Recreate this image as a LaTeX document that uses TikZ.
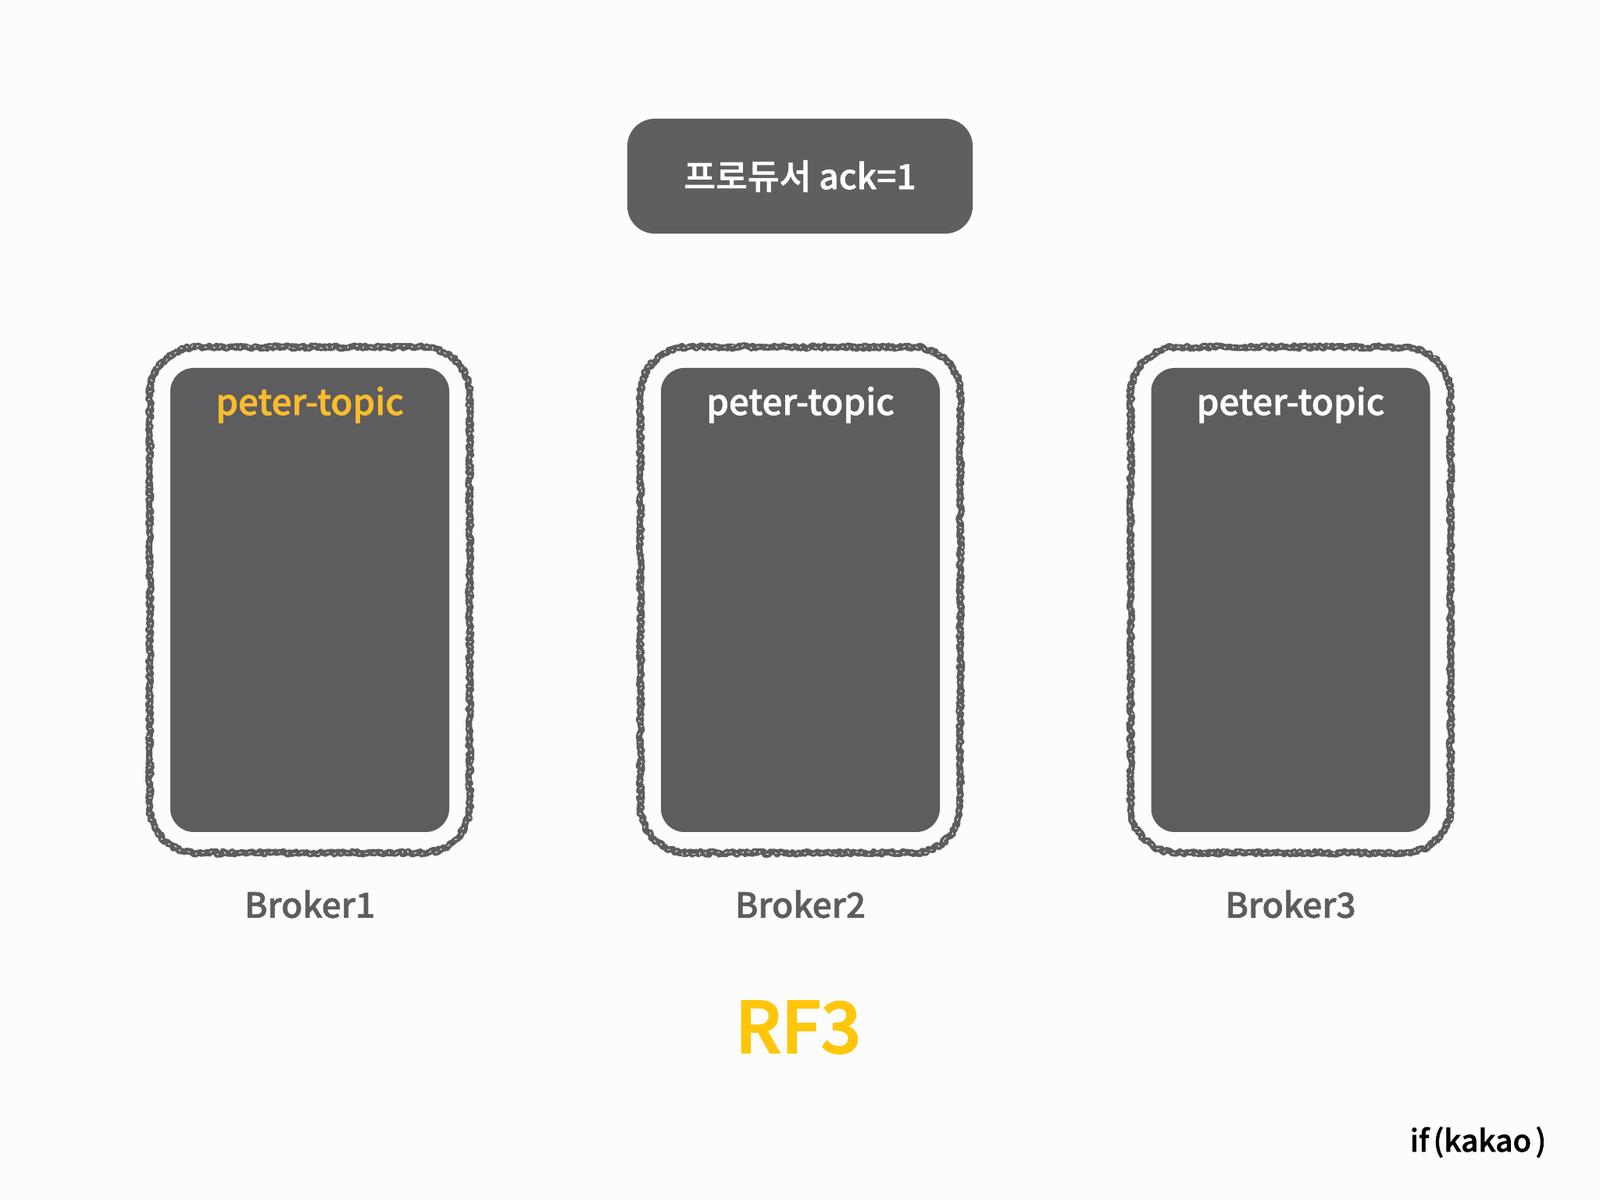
\documentclass[tikz,border=0pt]{standalone}
\usepackage{fontspec}
\setmainfont{Noto Sans CJK KR Medium}[FakeBold=1.4]
\newfontfamily\rffont{Noto Sans CJK KR Medium}[FakeBold=2.4]
\usetikzlibrary{positioning,decorations.pathmorphing}
\definecolor{boxgray}{HTML}{5D5C5E}
\definecolor{prodgray}{HTML}{5F5F5F}
\definecolor{topicyellow}{HTML}{FBBC2C}
\definecolor{rfyellow}{HTML}{FFC60B}
\tikzset{
  topic/.style={rectangle,fill=boxgray,rounded corners=0.3cm,minimum width=3.57cm,minimum height=5.94cm,inner sep=0pt},
  outline/.style={rectangle,minimum width=4.08cm,minimum height=6.46cm,inner sep=0pt},
  rough/.style={draw=boxgray,line width=0.08cm,line join=round,
    decorate,decoration={random steps,segment length=0.6pt,amplitude=0.6pt},
    postaction={draw=white,line width=0.008cm,dash pattern=on 1pt off 3pt,decorate}},
  topiclabel/.style={font=\fontsize{13}{16}\selectfont,text=white,inner sep=0pt},
  brokerlabel/.style={font=\fontsize{12.6}{16}\selectfont,text=boxgray,inner sep=0pt}
}
\begin{document}
\begin{tikzpicture}
  \path[fill=white!99!black] (0,0) rectangle (20.48,15.36);
  \useasboundingbox (0,0) rectangle (20.48,15.36);

  % Producer
  \node[rectangle,fill=prodgray,rounded corners=0.35cm,minimum width=4.42cm,minimum height=1.47cm,
    font=\fontsize{12.6}{16}\selectfont,text=white] (producer) at (10.24,13.105) {프로듀서 ack=1};

  % Brokers
  \foreach \i/\x/\c in {1/3.965/topicyellow,2/10.245/white,3/16.52/white}{
    \node[outline] (outer\i) at (\x,7.68) {};
    \draw[rough] ([xshift=0.6cm]outer\i.north west) -- ([xshift=-0.6cm]outer\i.north east)
      arc (90:0:0.6cm) -- ([yshift=0.6cm]outer\i.south east)
      arc (0:-90:0.6cm) -- ([xshift=0.6cm]outer\i.south west)
      arc (270:180:0.6cm) -- ([yshift=-0.6cm]outer\i.north west)
      arc (180:90:0.6cm) -- cycle;
    \node[topic] (box\i) at (\x,7.68) {};
    \node[topiclabel,text=\c,below=0.24cm of box\i.north] (topic\i) {peter-topic};
    \node[brokerlabel,below=0.47cm of outer\i.south] (broker\i) {Broker\i};
  }

  % Labels
  \node[font=\rffont\fontsize{25.6}{30}\selectfont,text=rfyellow,inner sep=0pt] (rf) at (10.215,2.21) {RF3};
  \node[font=\fontsize{11}{12}\selectfont,text=black,inner sep=0pt] (kakao) at (18.92,0.74) {if\kern1.5pt(kakao\kern1.5pt)};
\end{tikzpicture}
\end{document}
